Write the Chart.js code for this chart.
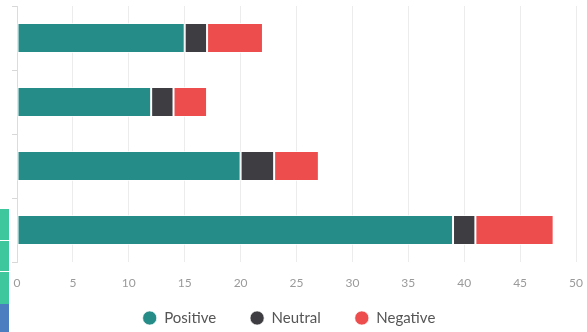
<!DOCTYPE html>
<html>
<head>
<meta charset="utf-8">
<script src="https://cdn.jsdelivr.net/npm/chart.js@4.4.1/dist/chart.umd.min.js"></script>
<style>
  html, body { margin: 0; padding: 0; background: #fff; }
  #wrap { position: relative; width: 587px; height: 332px; }
  .strip { position: absolute; left: 0; width: 9px; }
</style>
</head>
<body>
<div id="wrap">
  <canvas id="sentimentChart" width="587" height="332"></canvas>
  <div class="strip" style="top:209px;height:31px;background:#3ec69d;"></div>
  <div class="strip" style="top:241px;height:30px;background:#3ec69d;"></div>
  <div class="strip" style="top:272px;height:32px;background:#3ec69d;"></div>
  <div class="strip" style="top:304px;height:28px;background:#4b7dc1;"></div>
</div>
<script>
// == 데이터 == //
const CATEGORIES = ['A', 'B', 'C', 'D'];
const POSITIVE = [15, 12, 20, 39];
const NEUTRAL = [2, 2, 3, 2];
const NEGATIVE = [5, 3, 4, 7];
const X_MAX = 50;
const X_STEP = 5;

const CHART = document.getElementById('sentimentChart');

function barSet(label, data, color) {
  return {
    label: label,
    data: data,
    backgroundColor: color,
    borderColor: 'rgba(255,255,255,0.7)',
    borderWidth: 1,
    borderSkipped: false,
    categoryPercentage: 1,
    barPercentage: 0.47
  };
}

// legend: wide gaps between items, but only a thin strip reserved under the axis
const legendFit = {
  id: 'legendFit',
  beforeInit(chart) {
    const fit = chart.legend.fit;
    chart.legend.fit = function () {
      fit.bind(chart.legend)();
      this.height = 27.6;
    };
  },
  afterLayout(chart) {
    const legend = chart.legend;
    legend.top = 276.5;
    legend.bottom = chart.height;
    legend.right = 566;
  }
};

new Chart(CHART, {
  type: 'bar',
  data: {
    labels: CATEGORIES,
    datasets: [
      barSet('Positive', POSITIVE, '#268c87'),
      barSet('Neutral', NEUTRAL, '#3e3d42'),
      barSet('Negative', NEGATIVE, '#ee4d4d')
    ]
  },
  plugins: [legendFit],
  options: {
    indexAxis: 'y',
    responsive: false,
    animation: false,
    layout: {
      padding: { left: 12, right: 0, top: 6, bottom: 0 }
    },
    scales: {
      x: {
        stacked: true,
        min: 0,
        max: X_MAX,
        afterFit: (scale) => {
          scale.paddingLeft = 0;
          scale.paddingRight = 11;
        },
        ticks: {
          stepSize: X_STEP,
          color: '#9a9a9a',
          padding: 14,
          font: { family: 'Lato', size: 12 }
        },
        grid: {
          color: '#ececec',
          drawTicks: false
        },
        border: { display: false }
      },
      y: {
        stacked: true,
        ticks: { display: false },
        grid: {
          drawOnChartArea: false,
          color: '#d8d8d8',
          tickLength: 5
        },
        border: { color: '#dcdcdc' }
      }
    },
    plugins: {
      tooltip: { enabled: false },
      legend: {
        position: 'bottom',
        labels: {
          usePointStyle: true,
          pointStyle: 'circle',
          boxWidth: 14,
          boxHeight: 10,
          padding: 34,
          color: '#555',
          font: { family: 'Lato', size: 15 }
        }
      }
    }
  }
});
</script>
</body>
</html>
